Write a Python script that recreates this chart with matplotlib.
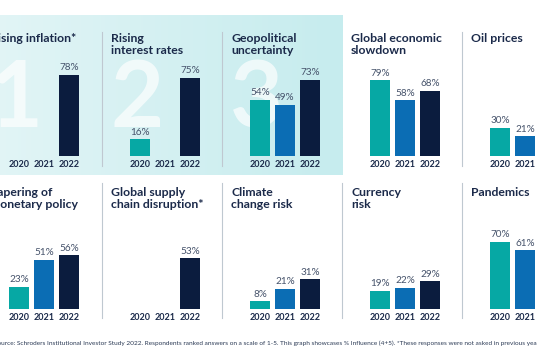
import matplotlib
matplotlib.use('Agg')
import matplotlib.pyplot as plt
import numpy as np

plt.rcParams['font.family'] = ['Lato', 'DejaVu Sans']

years = ['2020', '2021', '2022']

top_titles = [['Rising inflation*'], ['Rising', 'interest rates'], ['Geopolitical', 'uncertainty'],
              ['Global economic', 'slowdown'], ['Oil prices']]
top_values = [[None, None, 78], [16, None, 75], [54, 49, 73], [79, 58, 68], [30, 21, None]]

bottom_titles = [['Tapering of', 'monetary policy'], ['Global supply', 'chain disruption*'],
                 ['Climate', 'change risk'], ['Currency', 'risk'], ['Pandemics']]
bottom_values = [[23, 51, 56], [None, None, 53], [8, 21, 31], [19, 22, 29], [70, 61, None]]

rank_digits = ['1', '2', '3']
footer = ("Source: Schroders Institutional Investor Study 2022. Respondents ranked answers on a scale of 1-5. "
          "This graph showcases % Influence (4+5). *These responses were not asked in previous years.")

colors = ['#06a8a4', '#0b6db4', '#0b1c3e']
TITLE_C = '#1b2a4a'
LABEL_C = '#46536b'
DIV_C = '#bfc8d0'

W, Hh = 537, 360
fig = plt.figure(figsize=(W / 100, Hh / 100), dpi=100)
fig.patch.set_facecolor('white')

bg = fig.add_axes([0, 0, 1, 1])
bg.set_xlim(0, W)
bg.set_ylim(Hh, 0)
bg.axis('off')

# highlight box gradient
c0 = np.array([0xe3, 0xf5, 0xf6]) / 255
c1 = np.array([0xc6, 0xec, 0xee]) / 255
t = np.linspace(0, 1, 256)[None, :, None]
grad = c0 + (c1 - c0) * t
bg.imshow(grad, extent=[-20, 343, 175, 15], aspect='auto', zorder=0)
bg.set_xlim(0, W)
bg.set_ylim(Hh, 0)

dividers = [-19, 102, 222, 342, 462]

# large rank digits
for d, dig in zip(dividers[:3], rank_digits):
    bg.text(d + 8, 127, dig, fontsize=66, fontweight='bold', color='white', alpha=0.68,
            ha='left', va='baseline', zorder=1)

# dividers
for d in dividers[1:]:
    if d != 342:
        bg.plot([d, d], [32, 166], color=DIV_C, lw=0.8, zorder=2)
    bg.plot([d, d], [183, 318], color=DIV_C, lw=0.8, zorder=2)


def panel(d, base, titles, vals, scale, title_y):
    for k, line in enumerate(titles):
        bg.text(d + 9, title_y + 12.5 * k, line, fontsize=8.8, fontweight='bold', color=TITLE_C,
                ha='left', va='baseline', zorder=3)
    H = 100
    left = d + 25.5
    ax = fig.add_axes([left / W, (Hh - base) / Hh, 75 / W, H / Hh])
    ax.patch.set_visible(False)
    ax.set_xlim(-0.5, 2.5)
    ax.set_ylim(0, H / scale)
    ax.axis('off')
    for i, (yr, v) in enumerate(zip(years, vals)):
        if v is not None:
            ax.bar(i, v, width=0.8, color=colors[i], zorder=3)
            ax.annotate(f'{v}%', xy=(i, v), xytext=(0, 3.3), textcoords='offset points',
                        ha='center', va='baseline', fontsize=7.2, color=LABEL_C, annotation_clip=False)
        ax.annotate(yr, xy=(i, 0), xytext=(0, -8), textcoords='offset points',
                    ha='center', va='baseline', fontsize=6.5, fontweight='bold', color=TITLE_C,
                    annotation_clip=False)


top_scales = [1.04, 1.04, 1.04, 0.96, 0.94]
for d, tt, vv, s in zip(dividers, top_titles, top_values, top_scales):
    panel(d, 156, tt, vv, s, 42)
for d, tt, vv in zip(dividers, bottom_titles, bottom_values):
    panel(d, 309, tt, vv, 0.96, 195.5)

bg.text(-6, 343, footer, fontsize=4.65, color='#2b3a55', ha='left', va='center', zorder=3)

fig.savefig('out.png', dpi=100, facecolor='white')
